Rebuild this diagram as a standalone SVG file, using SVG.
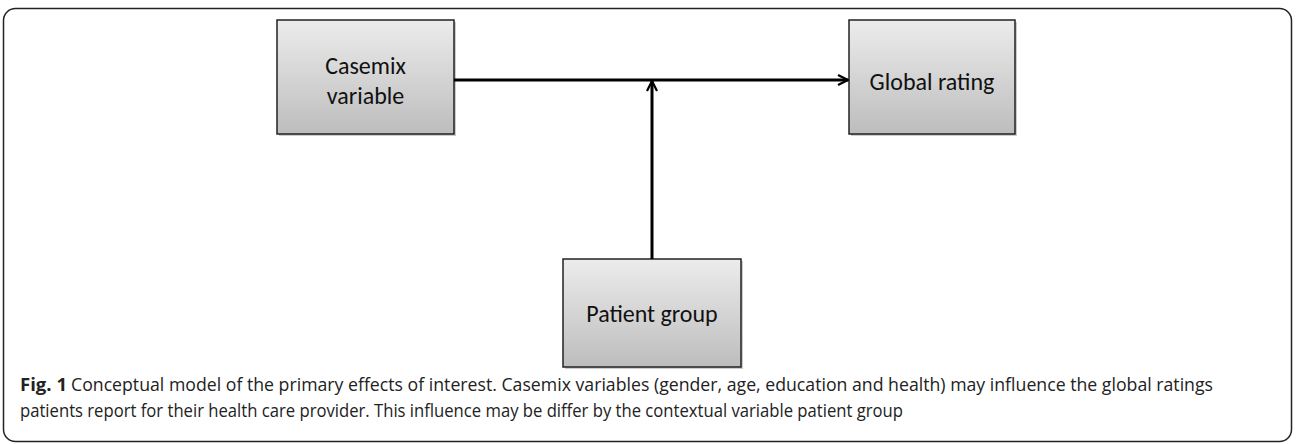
<svg xmlns="http://www.w3.org/2000/svg" width="1296" height="444" viewBox="0 0 1296 444">
<style>
.box{fill:url(#g);stroke:#222;stroke-width:1.5}
.shadow{fill:#999;opacity:0.5}
.lbl{font-family:Carlito,"Liberation Sans",sans-serif;font-size:24px;fill:#111;text-anchor:middle}
.cap{font-family:"Open Sans","Liberation Sans",sans-serif;font-size:18px;fill:#222}
.conn{stroke:#000;stroke-width:3;fill:none}
</style>
<defs>
<linearGradient id="g" x1="0" y1="0" x2="0" y2="1">
<stop offset="0" stop-color="#ececec"/>
<stop offset="1" stop-color="#bdbdbd"/>
</linearGradient>
<marker id="ah" viewBox="0 0 12 12" refX="11" refY="6" markerWidth="12" markerHeight="12" markerUnits="userSpaceOnUse" orient="auto">
<path d="M1,1 L11,6 L1,11" fill="none" stroke="#000" stroke-width="2.2"/>
</marker>
</defs>
<rect x="3.5" y="8.5" width="1288" height="433" rx="12" fill="#fff" stroke="#222" stroke-width="1.5"/>
<g id="casemix">
<rect class="shadow" x="279" y="22" width="177" height="114"/>
<rect class="box" x="277" y="20" width="177" height="114"/>
<text class="lbl" x="365.5" y="74">Casemix</text>
<text class="lbl" x="365.5" y="104">variable</text>
</g>
<g id="global">
<rect class="shadow" x="851" y="22" width="166" height="114"/>
<rect class="box" x="849" y="20" width="166" height="114"/>
<text class="lbl" x="932" y="90">Global rating</text>
</g>
<g id="patient">
<rect class="shadow" x="565" y="261" width="178" height="108"/>
<rect class="box" x="563" y="259" width="178" height="108"/>
<text class="lbl" x="652" y="322">Patient group</text>
</g>
<g id="connectors">
<line class="conn" x1="454" y1="80" x2="848" y2="80" marker-end="url(#ah)"/>
<line class="conn" x1="652" y1="259" x2="652" y2="81" marker-end="url(#ah)"/>
</g>
<text class="cap" x="20" y="391" textLength="47" lengthAdjust="spacingAndGlyphs"><tspan font-weight="bold">Fig. 1</tspan></text>
<text class="cap" x="71" y="391" textLength="1142" lengthAdjust="spacingAndGlyphs">Conceptual model of the primary effects of interest. Casemix variables (gender, age, education and health) may influence the global ratings</text>
<text class="cap" x="20" y="417" textLength="883" lengthAdjust="spacingAndGlyphs">patients report for their health care provider. This influence may be differ by the contextual variable patient group</text>
</svg>
